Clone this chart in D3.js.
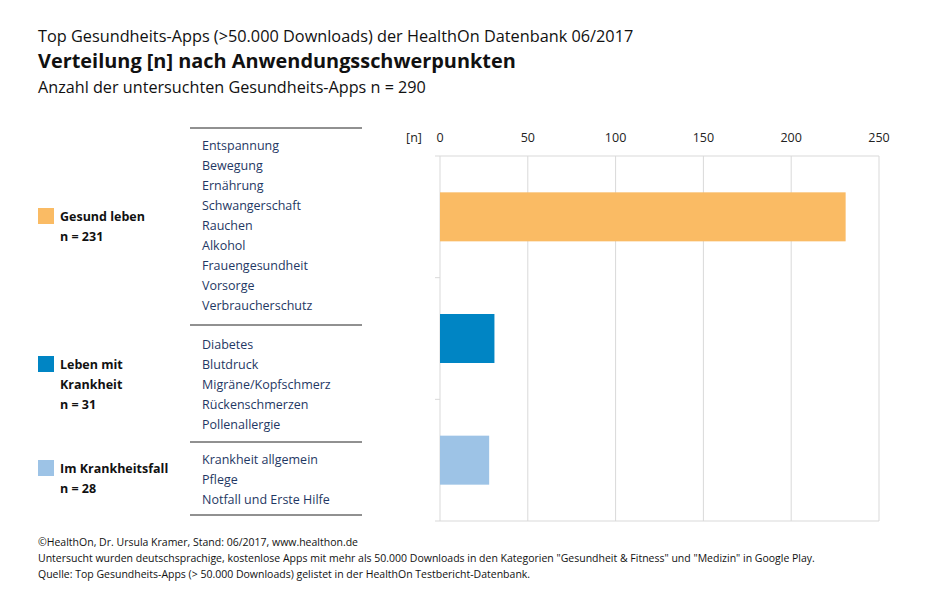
<!DOCTYPE html>
<html><head><meta charset="utf-8">
<script src="https://cdn.jsdelivr.net/npm/d3@7"></script>
<style>body{margin:0;background:#fff}text{font-family:"Open Sans",sans-serif}</style>
</head><body><svg id="c" width="942" height="602"></svg>
<script>
const categories = ["Gesund leben", "Leben mit Krankheit", "Im Krankheitsfall"];
const legendLines = [["Gesund leben", "n = 231"], ["Leben mit", "Krankheit", "n = 31"], ["Im Krankheitsfall", "n = 28"]];
const values = [231, 31, 28];
const colors = ["#FABB64", "#0085C4", "#9DC3E6"];
const topics = [
  ["Entspannung","Bewegung","Ernährung","Schwangerschaft","Rauchen","Alkohol","Frauengesundheit","Vorsorge","Verbraucherschutz"],
  ["Diabetes","Blutdruck","Migräne/Kopfschmerz","Rückenschmerzen","Pollenallergie"],
  ["Krankheit allgemein","Pflege","Notfall und Erste Hilfe"]
];
const xTicks = [0, 50, 100, 150, 200, 250];

const svg = d3.select("#c");
const x = d3.scaleLinear().domain([0, 250]).range([440, 879]);
const y = d3.scaleBand().domain(categories).range([156, 521]).paddingInner(0).paddingOuter(0);

svg.append("text").attr("x",38).attr("y",42).attr("font-size",16.3).attr("fill","#111").text("Top Gesundheits-Apps (>50.000 Downloads) der HealthOn Datenbank 06/2017");
svg.append("text").attr("x",38).attr("y",68).attr("font-size",19.9).attr("font-weight","bold").attr("fill","#111").text("Verteilung [n] nach Anwendungsschwerpunkten");
svg.append("text").attr("x",38).attr("y",93).attr("font-size",16.2).attr("fill","#111").text("Anzahl der untersuchten Gesundheits-Apps n = 290");

svg.append("g").selectAll("line").data(xTicks).join("line")
  .attr("x1",d=>x(d)).attr("x2",d=>x(d)).attr("y1",156).attr("y2",521).attr("stroke","#d9d9d9");
svg.append("line").attr("x1",435).attr("x2",879).attr("y1",156).attr("y2",156).attr("stroke","#d9d9d9");
svg.append("line").attr("x1",435).attr("x2",879).attr("y1",521).attr("y2",521).attr("stroke","#d9d9d9");
svg.append("g").selectAll("line").data(categories.slice(1)).join("line")
  .attr("x1",435).attr("x2",440).attr("y1",d=>y(d)).attr("y2",d=>y(d)).attr("stroke","#d9d9d9");

svg.append("g").selectAll("text").data(xTicks).join("text")
  .attr("x",d=>x(d)).attr("y",142).attr("text-anchor","middle").attr("font-size",12.5).attr("fill","#222").text(d=>d);
svg.append("text").attr("x",414).attr("y",142).attr("text-anchor","middle").attr("font-size",12.5).attr("fill","#222").text("[n]");

const bh = 49;
svg.append("g").selectAll("rect").data(values).join("rect")
  .attr("x",x(0)).attr("width",d=>x(d)-x(0))
  .attr("y",(d,i)=>y(categories[i])+y.bandwidth()/2 - bh/2).attr("height",bh)
  .attr("fill",(d,i)=>colors[i]);

const sepY = [128, 325, 442, 515];
sepY.forEach(v=>svg.append("line").attr("x1",190).attr("x2",362).attr("y1",v).attr("y2",v).attr("stroke","#222"));
const topStart = [150, 349, 464];
topics.forEach((arr,g)=>arr.forEach((t,i)=>svg.append("text").attr("x",202).attr("y",topStart[g]+i*20)
  .attr("font-size",12.5).attr("fill","#1F3864").text(t)));

const legY = [221, 369, 473];
legendLines.forEach((lines,g)=>{
  svg.append("rect").attr("x",38).attr("y",legY[g]-13).attr("width",16).attr("height",16).attr("fill",colors[g]);
  lines.forEach((t,i)=>svg.append("text").attr("x",60).attr("y",legY[g]+i*20)
    .attr("font-size",12.5).attr("font-weight","bold").attr("fill","#111").text(t));
});
svg.append("text").attr("x",38).attr("y",546).attr("font-size",10.5).attr("fill","#111").text("©HealthOn, Dr. Ursula Kramer, Stand: 06/2017, www.healthon.de");
svg.append("text").attr("x",38).attr("y",562).attr("font-size",10.5).attr("fill","#111").text("Untersucht wurden deutschsprachige, kostenlose Apps mit mehr als 50.000 Downloads in den Kategorien \"Gesundheit & Fitness\" und \"Medizin\" in Google Play.");
svg.append("text").attr("x",38).attr("y",578).attr("font-size",10.5).attr("fill","#111").text("Quelle: Top Gesundheits-Apps (> 50.000 Downloads) gelistet in der HealthOn Testbericht-Datenbank.");
</script></body></html>
